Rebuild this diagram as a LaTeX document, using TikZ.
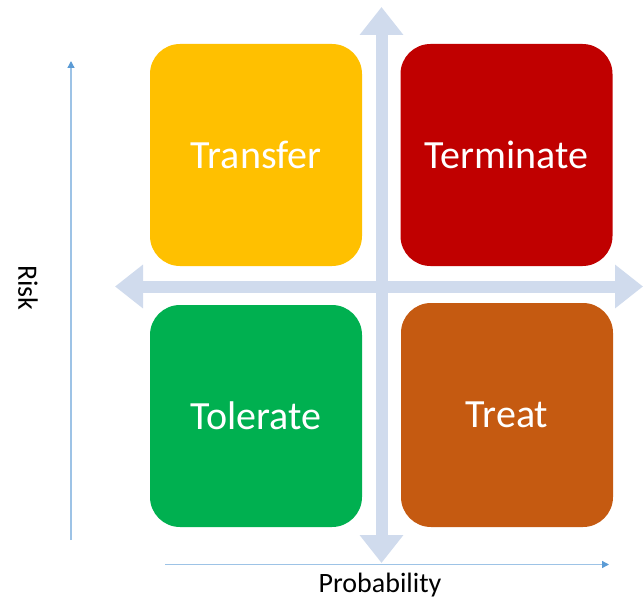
\documentclass[tikz,border=0pt]{standalone}
\usepackage{fontspec}
\setmainfont{Carlito}
\usepackage{xcolor}
\usepackage{tikz}
\usetikzlibrary{arrows.meta,positioning}
\definecolor{transfercolor}{HTML}{FFC000}
\definecolor{terminatecolor}{HTML}{C00000}
\definecolor{toleratecolor}{HTML}{00B050}
\definecolor{treatcolor}{HTML}{C55A11}
\definecolor{crosscolor}{HTML}{D0DBED}
\definecolor{axiscolor}{HTML}{9DC3E6}
\definecolor{tipcolor}{HTML}{5B9BD5}
\tikzset{
  quad box/.style={
    rounded corners=30pt,
    minimum width=212pt,
    minimum height=222pt,
    inner sep=0pt,
    text=white,
    font=\fontsize{40}{42}\selectfont
  },
  cross arrow/.style={
    draw=crosscolor,
    line width=12pt,
    {Triangle[length=28pt,width=42pt]}-{Triangle[length=28pt,width=42pt]}
  },
  axis arrow/.style={
    draw=axiscolor,
    line width=1.3pt,
    -{Triangle[length=7pt,width=7pt,fill=tipcolor,color=tipcolor]}
  },
  axis label/.style={
    font=\fontsize{28}{29}\selectfont,
    inner sep=0pt
  }
}

\begin{document}
\begin{tikzpicture}[x=1pt,y=-1pt]
  \useasboundingbox (0,0) rectangle (644,599);
  % Cross of light arrows behind the four boxes
  \coordinate (vtop) at (381.5,7);
  \coordinate (vbot) at (381.5,563);
  \coordinate (hleft) at (115,286.5);
  \coordinate (hright) at (643,286.5);
  \draw[cross arrow] (vbot) -- (vtop);
  \draw[cross arrow] (hleft) -- (hright);

  % Quadrants
  \node[quad box, fill=transfercolor] (transfer) at (256,155) {Transfer};
  \node[quad box, fill=terminatecolor] (terminate) at (506.5,155) {Terminate};
  \node[quad box, fill=toleratecolor] (tolerate) at (256,416) {Tolerate};
  \node[quad box, fill=treatcolor, minimum height=224pt] (treat) at (507,415) {Treat};

  % Axes
  \coordinate (riskbot) at (71,540);
  \coordinate (risktop) at (71,61);
  \coordinate (probleft) at (165,564.5);
  \coordinate (probright) at (609,564.5);
  \draw[axis arrow] (riskbot) -- (risktop);
  \draw[axis arrow] (probleft) -- (probright);
  \node[axis label, rotate=-90] (risk) at (28,288) {Risk};
  \node[axis label, anchor=north] (prob) at (380,572.5) {Probability};
\end{tikzpicture}
\end{document}
